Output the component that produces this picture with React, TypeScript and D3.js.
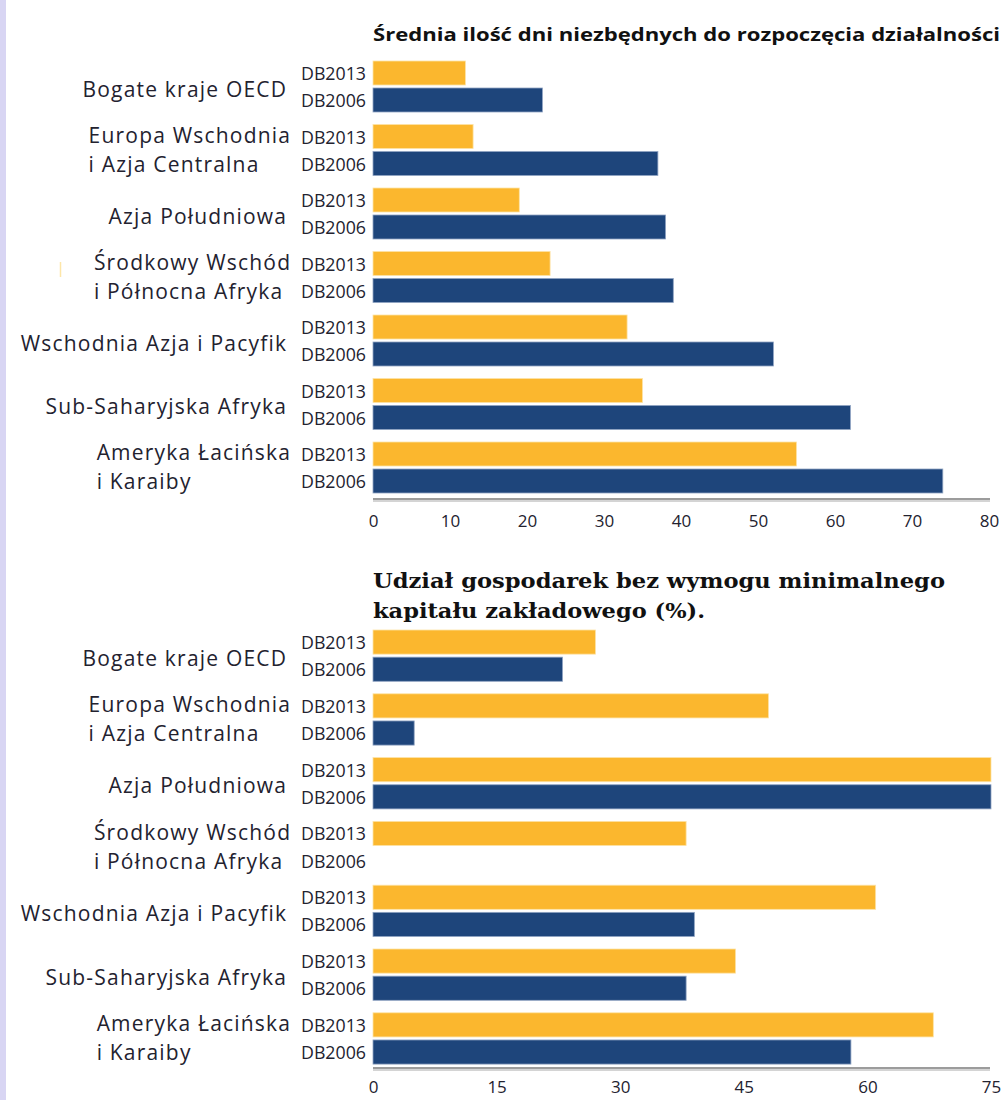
import React, { useEffect, useRef } from "react";
import * as d3 from "d3";

const categories: string[][] = [
  ["Bogate kraje OECD"],
  ["Europa Wschodnia", "i Azja Centralna"],
  ["Azja Południowa"],
  ["Środkowy Wschód", "i Północna Afryka"],
  ["Wschodnia Azja i Pacyfik"],
  ["Sub-Saharyjska Afryka"],
  ["Ameryka Łacińska", "i Karaiby"],
];
const seriesNames = ["DB2013", "DB2006"];
const daysDB2013 = [12, 13, 19, 23, 33, 35, 55];
const daysDB2006 = [22, 37, 38, 39, 52, 62, 74];
const capDB2013 = [27, 48, 75, 38, 61, 44, 68];
const capDB2006 = [23, 5, 75, 0, 39, 38, 58];
const daysTicks = [0, 10, 20, 30, 40, 50, 60, 70, 80];
const capTicks = [0, 15, 30, 45, 60, 75];
const titleDays = "Średnia ilość dni niezbędnych do rozpoczęcia działalności";
const titleCap = ["Udział gospodarek bez wymogu minimalnego", "kapitału zakładowego (%)."];

const COLORS: Record<string, string> = { DB2013: "#FBB72E", DB2006: "#1E457B" };
const TEXT = "#23222f";
const SANS = "'Open Sans', 'DejaVu Sans', sans-serif";
const CAT_FS = 21;
const CAT_LS = 1.2;

type Panel = {
  top: number;
  step: number;
  xMax: number;
  xEnd: number;
  v13: number[];
  v06: number[];
  ticks: number[];
  axisY: number;
  labelY: number;
};

function catText(g: d3.Selection<SVGGElement, unknown, null, undefined>) {
  return g
    .append("text")
    .attr("dominant-baseline", "central")
    .attr("font-family", SANS)
    .attr("font-size", CAT_FS)
    .attr("letter-spacing", CAT_LS)
    .attr("fill", TEXT);
}

function drawPanel(root: d3.Selection<SVGGElement, unknown, null, undefined>, p: Panel) {
  const keys = categories.map((c) => c.join(" "));
  const pad = 12.5 / p.step;
  const y = d3
    .scaleBand<string>()
    .domain(keys)
    .range([p.top, p.top + p.step * (keys.length - pad)])
    .paddingInner(pad)
    .paddingOuter(0);
  const ys = d3
    .scaleBand<string>()
    .domain(seriesNames)
    .range([0, y.bandwidth()])
    .paddingInner(3 / 27)
    .paddingOuter(0);
  const x = d3.scaleLinear().domain([0, p.xMax]).range([373, p.xEnd]);

  const g = root.append("g");
  keys.forEach((k, i) => {
    const vals: Record<string, number> = { DB2013: p.v13[i], DB2006: p.v06[i] };
    const gy = y(k)!;
    seriesNames.forEach((s) => {
      const by = gy + ys(s)!;
      if (vals[s] > 0) {
        g.append("rect")
          .attr("x", x(0))
          .attr("y", by)
          .attr("width", x(vals[s]) - x(0))
          .attr("height", ys.bandwidth())
          .attr("fill", COLORS[s])
          .attr("stroke", s === "DB2013" ? "#fde3a6" : "#8fa3c2")
          .attr("stroke-width", 0.8);
      }
      g.append("text")
        .attr("x", 366)
        .attr("y", by + ys.bandwidth() / 2)
        .attr("text-anchor", "end")
        .attr("dominant-baseline", "central")
        .attr("font-family", SANS)
        .attr("font-size", 18)
        .attr("fill", TEXT)
        .attr("textLength", 65)
        .attr("lengthAdjust", "spacingAndGlyphs")
        .text(s);
    });
    const lines = categories[i];
    const cy = gy + y.bandwidth() / 2;
    if (lines.length === 1) {
      catText(g)
        .attr("x", 286 + CAT_LS)
        .attr("y", cy + 2)
        .attr("text-anchor", "end")
        .text(lines[0]);
    } else {
      const t1 = catText(g)
        .attr("x", 290 + CAT_LS)
        .attr("y", cy - 15.5)
        .attr("text-anchor", "end")
        .text(lines[0]);
      const w = (t1.node() as SVGTextElement).getComputedTextLength();
      catText(g)
        .attr("x", 290 + CAT_LS - w)
        .attr("y", cy + 13.5)
        .attr("text-anchor", "start")
        .text(lines[1]);
    }
  });

  // axis line
  g.append("line")
    .attr("x1", x(0))
    .attr("x2", 990)
    .attr("y1", p.axisY)
    .attr("y2", p.axisY)
    .attr("stroke", "#9c9c9c")
    .attr("stroke-width", 2);
  g.append("line")
    .attr("x1", x(0))
    .attr("x2", 990)
    .attr("y1", p.axisY + 2)
    .attr("y2", p.axisY + 2)
    .attr("stroke", "#d4d4d4")
    .attr("stroke-width", 2);

  const axis = d3.axisBottom(x).tickValues(p.ticks).tickSize(0).tickPadding(0).tickFormat(d3.format("d"));
  const ag = g.append("g").attr("transform", `translate(0,${p.labelY})`).call(axis);
  ag.select(".domain").remove();
  ag.selectAll("text")
    .attr("font-family", SANS)
    .attr("font-size", 17)
    .attr("fill", TEXT)
    .attr("dy", "0.35em")
    .attr("y", 0);
}

export default function App() {
  const ref = useRef<SVGSVGElement | null>(null);
  useEffect(() => {
    const svg = d3.select(ref.current!);
    svg.selectAll("*").remove();
    const root = svg.append("g");

    root.append("rect").attr("x", 0).attr("y", 0).attr("width", 1003).attr("height", 1100).attr("fill", "#ffffff");
    root.append("rect").attr("x", 0).attr("y", 0).attr("width", 6).attr("height", 1100).attr("fill", "#d8d5f3");
    root.append("line")
      .attr("x1", 60.5).attr("x2", 60.5).attr("y1", 262).attr("y2", 277)
      .attr("stroke", "#fde6a8").attr("stroke-width", 1.5);

    root.append("text")
      .attr("x", 373)
      .attr("y", 33)
      .attr("dominant-baseline", "central")
      .attr("font-family", SANS)
      .attr("font-weight", "bold")
      .attr("font-size", 18.5)
      .attr("fill", "#111")
      .attr("textLength", 627)
      .attr("lengthAdjust", "spacingAndGlyphs")
      .text(titleDays);

    drawPanel(root, {
      top: 61,
      step: 63.5,
      xMax: 80,
      xEnd: 989,
      v13: daysDB2013,
      v06: daysDB2006,
      ticks: daysTicks,
      axisY: 499,
      labelY: 521,
    });

    const tl = [572, 332];
    titleCap.forEach((t, i) => {
      root.append("text")
        .attr("x", 373)
        .attr("y", 580 + i * 30)
        .attr("dominant-baseline", "central")
        .attr("font-family", "'DejaVu Serif', 'Liberation Serif', serif")
        .attr("font-weight", "bold")
        .attr("font-size", 21)
        .attr("fill", "#111")
        .attr("textLength", tl[i])
        .attr("lengthAdjust", "spacingAndGlyphs")
        .text(t);
    });

    drawPanel(root, {
      top: 630,
      step: 63.8,
      xMax: 75,
      xEnd: 991,
      v13: capDB2013,
      v06: capDB2006,
      ticks: capTicks,
      axisY: 1068,
      labelY: 1087,
    });
  }, []);

  return (
    <svg
      ref={ref}
      width={1003}
      height={1100}
      style={{ position: "absolute", left: 0, top: 0, display: "block" }}
    />
  );
}
